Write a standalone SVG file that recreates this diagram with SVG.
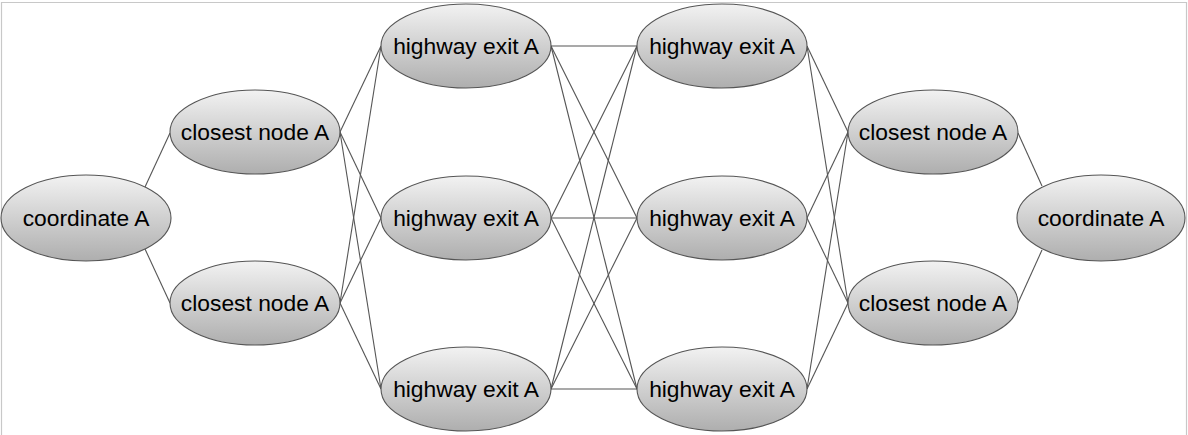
<svg xmlns="http://www.w3.org/2000/svg" width="1188" height="435" viewBox="0 0 1188 435">
<defs>
<linearGradient id="g" x1="0" y1="0" x2="0" y2="1">
<stop offset="0" stop-color="#f2f2f2"/>
<stop offset="1" stop-color="#aeaeae"/>
</linearGradient>
<style>
.n ellipse{fill:url(#g);stroke:#555;stroke-width:1.1}
.n text{font-family:"Liberation Sans",Arial,sans-serif;font-size:22.8px;fill:#000;text-anchor:middle}
#edges line{stroke:#555;stroke-width:1.1}
</style>
</defs>
<rect width="1188" height="435" fill="#fff"/>
<path d="M1.5 436 V2.5 H1186.5 V436" fill="none" stroke="#c8c8c8" stroke-width="1.2"/>
<g id="edges">
<line x1="145" y1="187" x2="170" y2="133"/>
<line x1="145" y1="249" x2="170" y2="303"/>
<line x1="340" y1="132" x2="381" y2="46"/>
<line x1="340" y1="132" x2="381" y2="218"/>
<line x1="340" y1="132" x2="381" y2="389"/>
<line x1="340" y1="303" x2="381" y2="46"/>
<line x1="340" y1="303" x2="381" y2="218"/>
<line x1="340" y1="303" x2="381" y2="389"/>
<line x1="551" y1="46" x2="637" y2="46"/>
<line x1="551" y1="46" x2="637" y2="218"/>
<line x1="551" y1="46" x2="637" y2="389"/>
<line x1="551" y1="218" x2="637" y2="46"/>
<line x1="551" y1="218" x2="637" y2="218"/>
<line x1="551" y1="218" x2="637" y2="389"/>
<line x1="551" y1="389" x2="637" y2="46"/>
<line x1="551" y1="389" x2="637" y2="218"/>
<line x1="551" y1="389" x2="637" y2="389"/>
<line x1="807" y1="46" x2="848" y2="132"/>
<line x1="807" y1="46" x2="848" y2="303"/>
<line x1="807" y1="218" x2="848" y2="132"/>
<line x1="807" y1="218" x2="848" y2="303"/>
<line x1="807" y1="389" x2="848" y2="132"/>
<line x1="807" y1="389" x2="848" y2="303"/>
<line x1="1018" y1="133" x2="1042" y2="186"/>
<line x1="1018" y1="303" x2="1042" y2="250"/>
</g>
<g id="coordL" class="n"><ellipse cx="86" cy="218" rx="85" ry="43"/><text x="86" y="226">coordinate A</text></g>
<g id="closeL1" class="n"><ellipse cx="255" cy="132" rx="85" ry="42"/><text x="255" y="140">closest node A</text></g>
<g id="closeL2" class="n"><ellipse cx="255" cy="303" rx="85" ry="42"/><text x="255" y="311">closest node A</text></g>
<g id="hw1a" class="n"><ellipse cx="466" cy="46" rx="85" ry="42"/><text x="466" y="54">highway exit A</text></g>
<g id="hw1b" class="n"><ellipse cx="466" cy="218" rx="85" ry="42"/><text x="466" y="226">highway exit A</text></g>
<g id="hw1c" class="n"><ellipse cx="466" cy="389" rx="85" ry="42"/><text x="466" y="397">highway exit A</text></g>
<g id="hw2a" class="n"><ellipse cx="722" cy="46" rx="85" ry="42"/><text x="722" y="54">highway exit A</text></g>
<g id="hw2b" class="n"><ellipse cx="722" cy="218" rx="85" ry="42"/><text x="722" y="226">highway exit A</text></g>
<g id="hw2c" class="n"><ellipse cx="722" cy="389" rx="85" ry="42"/><text x="722" y="397">highway exit A</text></g>
<g id="closeR1" class="n"><ellipse cx="933" cy="132" rx="85" ry="42"/><text x="933" y="140">closest node A</text></g>
<g id="closeR2" class="n"><ellipse cx="933" cy="303" rx="85" ry="42"/><text x="933" y="311">closest node A</text></g>
<g id="coordR" class="n"><ellipse cx="1101" cy="218" rx="84" ry="43"/><text x="1101" y="226">coordinate A</text></g>
</svg>
